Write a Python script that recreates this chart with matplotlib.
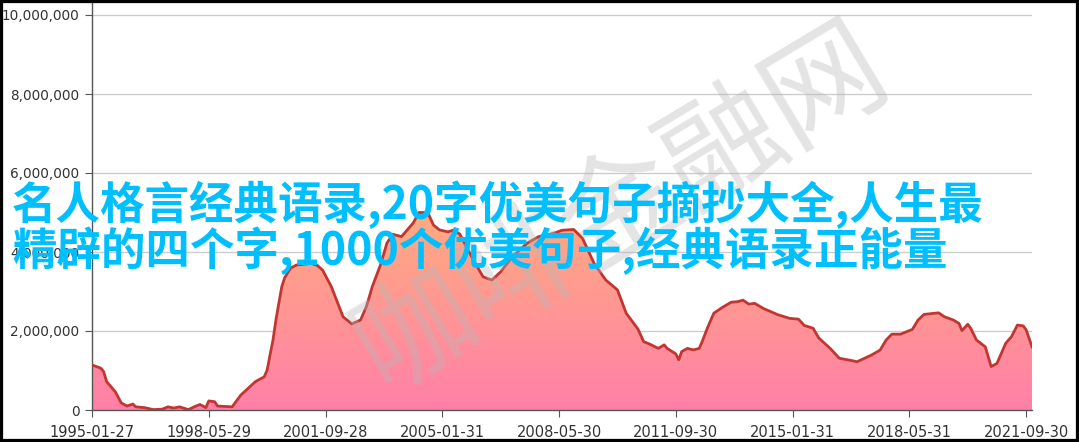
import matplotlib
matplotlib.use("Agg")
import matplotlib.pyplot as plt
import numpy as np
from matplotlib.colors import LinearSegmentedColormap
from matplotlib.patches import Rectangle
from matplotlib.ticker import FuncFormatter

# month of each sample (YYYY-MM) and value in millions
dates = [
    "1995-01", "1995-04", "1995-05", "1995-06", "1995-09", "1995-11", "1996-01", "1996-03",
    "1996-04", "1996-07", "1996-10", "1997-01", "1997-03", "1997-05", "1997-07", "1997-10",
    "1997-12", "1998-02", "1998-04", "1998-05", "1998-07", "1998-08", "1999-01", "1999-04",
    "1999-09", "1999-12", "2000-01", "2000-02", "2000-03", "2000-04", "2000-05", "2000-06",
    "2000-07", "2000-09", "2000-11", "2001-04", "2001-06", "2001-08", "2001-11", "2002-01",
    "2002-03", "2002-06", "2002-09", "2002-11", "2003-01", "2003-04", "2003-06", "2003-08",
    "2003-11", "2004-01", "2004-03", "2004-05", "2004-08", "2004-10", "2004-12", "2005-03",
    "2005-05", "2005-07", "2005-12", "2006-03", "2006-06", "2006-09", "2007-01", "2007-06",
    "2007-10", "2008-03", "2008-06", "2008-10", "2009-01", "2009-05", "2009-09", "2010-01",
    "2010-04", "2010-08", "2010-10", "2010-12", "2011-03", "2011-05", "2011-06", "2011-09",
    "2011-10", "2011-11", "2012-01", "2012-03", "2012-05", "2012-06", "2012-08", "2012-10",
    "2013-01", "2013-04", "2013-06", "2013-08", "2013-10", "2013-12", "2014-03", "2014-08",
    "2014-12", "2015-03", "2015-05", "2015-08", "2015-10", "2016-02", "2016-05", "2016-10",
    "2016-11", "2017-04", "2017-07", "2017-09", "2017-11", "2018-02", "2018-04", "2018-06",
    "2018-08", "2018-10", "2019-03", "2019-05", "2019-08", "2019-10", "2019-11", "2020-01",
    "2020-02", "2020-04", "2020-07", "2020-08", "2020-09", "2020-11", "2021-02", "2021-04",
    "2021-06", "2021-08", "2021-09", "2021-11",
]
values = [
    1.14, 1.06, 0.97, 0.72, 0.46, 0.18, 0.10, 0.15,
    0.08, 0.06, 0.01, 0.02, 0.08, 0.05, 0.08, 0.01,
    0.08, 0.14, 0.06, 0.23, 0.21, 0.10, 0.08, 0.38,
    0.72, 0.84, 1.01, 1.40, 1.77, 2.28, 2.70, 3.12,
    3.35, 3.59, 3.67, 3.71, 3.67, 3.54, 3.12, 2.74,
    2.36, 2.18, 2.28, 2.62, 3.12, 3.71, 4.22, 4.45,
    4.39, 4.56, 4.73, 5.00, 5.00, 4.68, 4.56, 4.51,
    4.56, 4.45, 3.75, 3.37, 3.29, 3.50, 3.88, 4.22,
    4.39, 4.47, 4.55, 4.57, 4.35, 3.71, 3.29, 3.04,
    2.45, 2.05, 1.73, 1.67, 1.56, 1.65, 1.56, 1.42,
    1.27, 1.48, 1.56, 1.52, 1.56, 1.73, 2.11, 2.45,
    2.60, 2.73, 2.74, 2.78, 2.68, 2.70, 2.57, 2.41,
    2.32, 2.30, 2.14, 2.07, 1.82, 1.55, 1.31, 1.24,
    1.22, 1.39, 1.52, 1.77, 1.92, 1.92, 1.98, 2.04,
    2.28, 2.42, 2.46, 2.36, 2.28, 2.19, 2.01, 2.17,
    2.07, 1.77, 1.60, 1.35, 1.10, 1.18, 1.69, 1.86,
    2.15, 2.13, 2.03, 1.60,
]

tick_labels = ["1995-01-27", "1998-05-29", "2001-09-28", "2005-01-31", "2008-05-30",
               "2011-09-30", "2015-01-31", "2018-05-31", "2021-09-30"]
tick_months = [0, 40, 80, 120, 160, 200, 240, 280, 320]

title_lines = ["名人格言经典语录,20字优美句子摘抄大全,人生最",
               "精辟的四个字,1000个优美句子,经典语录正能量"]
watermark = "咖啡金融网"

x = np.array([(int(d[:4]) - 1995) * 12 + int(d[5:7]) - 1 for d in dates], dtype=float)
y = np.array(values) * 1e6

W, H = 1079, 442
fig = plt.figure(figsize=(W / 100, H / 100), dpi=100)
ax = fig.add_axes([92 / W, 32 / H, (1032 - 92) / W, (410 - 3) / H])

ymax = 10e6 * (410 - 3) / (410 - 15)
xmax = x[-1]

# gradient fill under the curve
cmap = LinearSegmentedColormap.from_list("area", ["#ff80a8", "#ffab80"])
grad = np.linspace(0, 1, 256).reshape(-1, 1)
img = ax.imshow(grad, extent=[0, xmax, 0, y.max()], origin="lower", aspect="auto",
                cmap=cmap, zorder=2)
poly = ax.fill_between(x, y, 0, color="none", lw=0)
img.set_clip_path(poly.get_paths()[0], transform=ax.transData)
ax.plot(x, y, color="#c23531", lw=2, zorder=3)

ax.set_xlim(0, xmax)
ax.set_ylim(0, ymax)

ax.set_yticks([0, 2e6, 4e6, 6e6, 8e6, 10e6])
ax.yaxis.set_major_formatter(FuncFormatter(lambda v, p: f"{int(v):,}"))
ax.set_xticks(tick_months)
ax.set_xticklabels(tick_labels)
ax.grid(axis="y", color="#cccccc", lw=1)
ax.set_axisbelow(True)

for s in ["top", "right"]:
    ax.spines[s].set_visible(False)
for s in ["left", "bottom"]:
    ax.spines[s].set_color("#555555")
    ax.spines[s].set_linewidth(1)
ax.tick_params(axis="both", colors="#555555", labelcolor="#333333", length=5,
               direction="out")
ax.tick_params(axis="x", labelsize=10.5, pad=6)
ax.tick_params(axis="y", labelsize=9.8, pad=4)

fig.text(622 / W, 1 - 208 / H, watermark, rotation=31, ha="center", va="center",
         fontsize=86, color="#b8b8b8", alpha=0.38, family="Noto Sans CJK SC", zorder=5)

fig.text(12 / W, 1 - 219 / H, title_lines[0], ha="left", va="baseline", fontsize=32,
         color="#00bfff", fontweight="bold", family=["Noto Sans CJK SC", "DejaVu Sans"], zorder=6)
fig.text(12 / W, 1 - 265 / H, title_lines[1], ha="left", va="baseline", fontsize=32,
         color="#00bfff", fontweight="bold", family=["Noto Sans CJK SC", "DejaVu Sans"], zorder=6)

fig.patches.append(Rectangle((0, 0), 1, 1, transform=fig.transFigure, fill=False,
                             edgecolor="black", linewidth=4.5, zorder=10))

fig.savefig("out.png", dpi=100)
